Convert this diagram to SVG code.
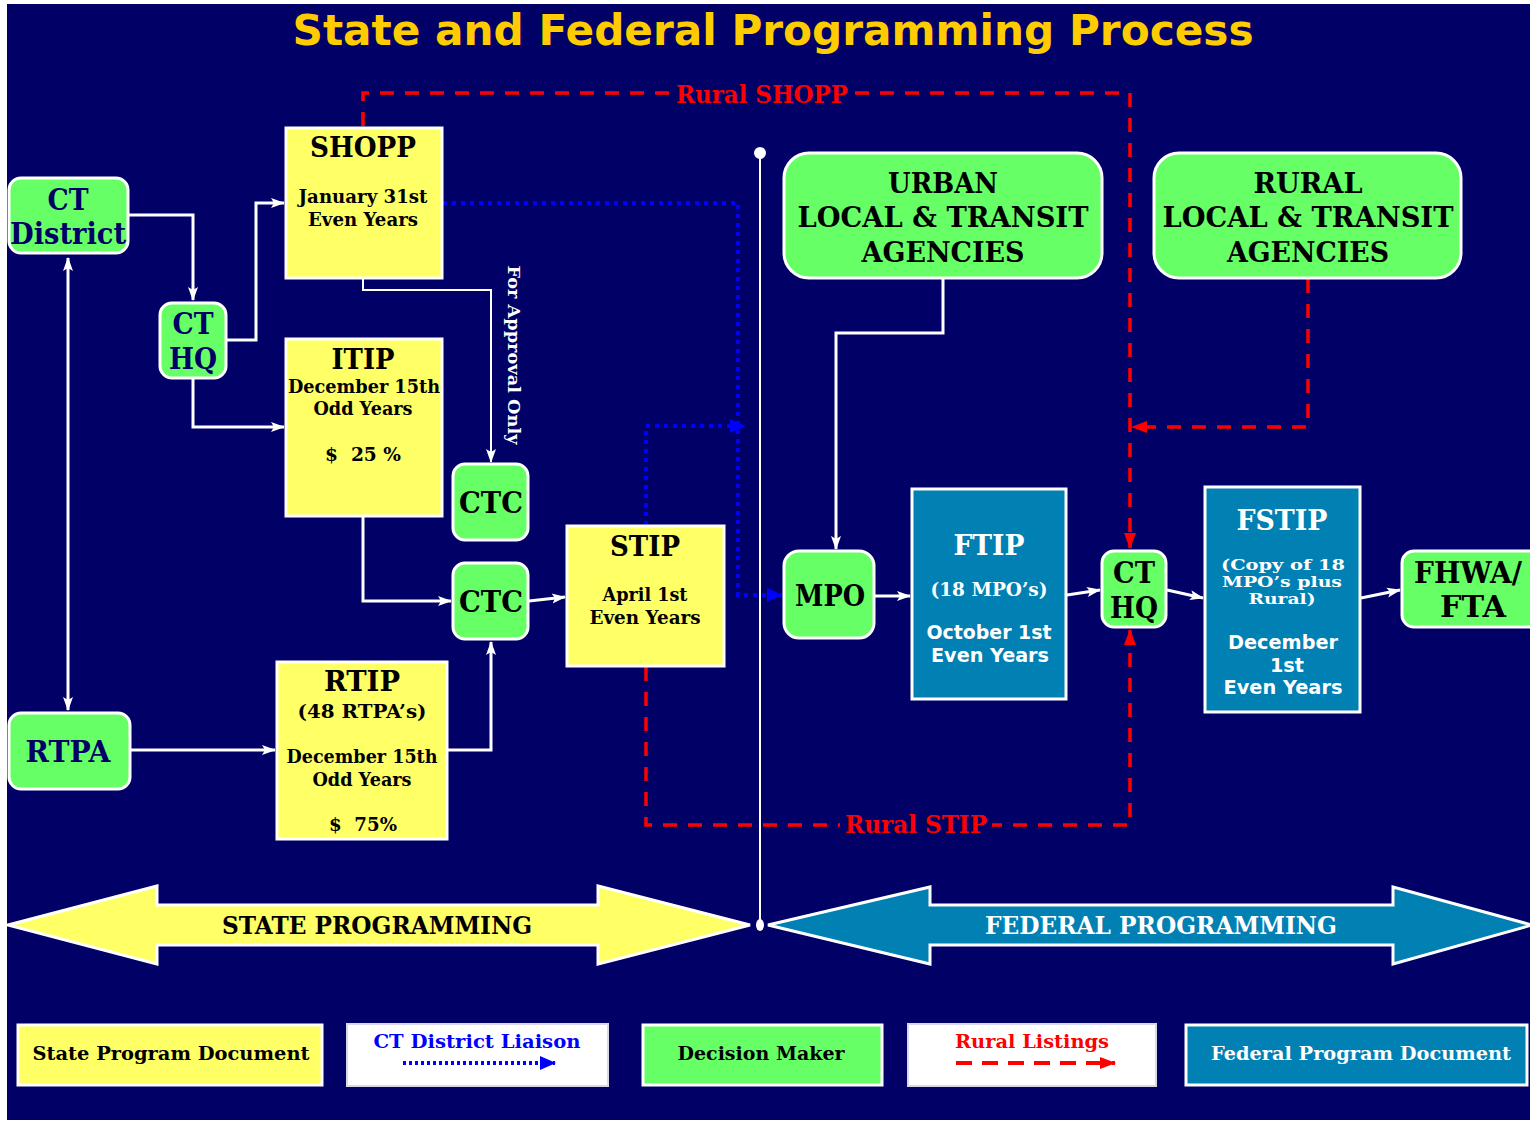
<svg xmlns="http://www.w3.org/2000/svg" width="1530" height="1122" viewBox="0 0 1530 1122">
<defs>
<style>
.s{font-family:"DejaVu Serif","Liberation Serif",serif;font-weight:bold;text-anchor:middle}
.ss{font-family:"DejaVu Sans","Liberation Sans",sans-serif;font-weight:bold;text-anchor:middle}
.yel{fill:#FFFF66;stroke:#FFFFFF;stroke-width:3}
.grn{fill:#66FF66;stroke:#FFFFFF;stroke-width:3}
.blu{fill:#0080B3;stroke:#FFFFFF;stroke-width:3}
.wht{fill:#FFFFFF;stroke:#D8D8E8;stroke-width:2}
.ln{fill:none;stroke:#FFFFFF;stroke-width:3}
.dot{fill:none;stroke:#0000FF;stroke-width:4;stroke-dasharray:4 5}
.dash{fill:none;stroke:#FF0000;stroke-width:3.5;stroke-dasharray:14 11}
.k{fill:#000000}
.n{fill:#000066}
.w{fill:#FFFFFF}
</style>
<marker id="aw" markerUnits="userSpaceOnUse" markerWidth="14" markerHeight="12" refX="13" refY="6" orient="auto"><path d="M0,1 L14,6 L0,11 L3,6 Z" fill="#FFFFFF"/></marker>
<marker id="ab" markerUnits="userSpaceOnUse" markerWidth="16" markerHeight="14" refX="15" refY="7" orient="auto"><path d="M0,0 L16,7 L0,14 Z" fill="#0000FF"/></marker>
<marker id="ar" markerUnits="userSpaceOnUse" markerWidth="16" markerHeight="14" refX="15" refY="7" orient="auto"><path d="M0,1 L16,7 L0,13 Z" fill="#FF0000"/></marker>
</defs>
<rect x="0" y="0" width="1530" height="1122" fill="#FFFFFF"/>
<rect x="7" y="4" width="1523" height="1116" fill="#000066"/>

<text class="ss" x="773" y="45" font-size="42" fill="#FFCC00" textLength="961" lengthAdjust="spacingAndGlyphs">State and Federal Programming Process</text>

<!-- connectors -->
<g id="connectors">
  <path class="ln" d="M128,215 H193 V300" marker-end="url(#aw)"/>
  <path class="ln" d="M226,340 H256 V203 H284" marker-end="url(#aw)"/>
  <path class="ln" d="M193,378 V427 H284" marker-end="url(#aw)"/>
  <path class="ln" d="M68,400 V258" marker-end="url(#aw)"/>
  <path class="ln" d="M68,400 V710" marker-end="url(#aw)"/>
  <path class="ln" d="M130,750 H275" marker-end="url(#aw)"/>
  <path class="ln" style="stroke-width:2" d="M363,278 V290 H491 V462" marker-end="url(#aw)"/>
  <path class="ln" d="M363,516 V601 H451" marker-end="url(#aw)"/>
  <path class="ln" d="M447,750 H491 V642" marker-end="url(#aw)"/>
  <path class="ln" d="M529,601 L565,597" marker-end="url(#aw)"/>
  <path class="ln" d="M943,278 V333 H836 V549" marker-end="url(#aw)"/>
  <path class="ln" d="M875,596 H910" marker-end="url(#aw)"/>
  <path class="ln" d="M1067,595 L1100,590" marker-end="url(#aw)"/>
  <path class="ln" d="M1167,590 L1203,598" marker-end="url(#aw)"/>
  <path class="ln" d="M1361,598 L1400,590" marker-end="url(#aw)"/>
  <!-- divider -->
  <line x1="760" y1="153" x2="760" y2="925" stroke="#FFFFFF" stroke-width="2"/>
  <circle cx="760" cy="153" r="6" fill="#FFFFFF"/>
  <ellipse cx="760" cy="925" rx="4" ry="6" fill="#FFFFFF"/>
  <!-- blue dotted -->
  <path class="dot" d="M443,203 H738 V595 H782" marker-end="url(#ab)"/>
  <path class="dot" d="M646,525 V426 H745" marker-end="url(#ab)"/>
  <!-- red dashed -->
  <path class="dash" d="M363,126 V93 H1130 V548" marker-end="url(#ar)"/>
  <path class="dash" d="M646,667 V825 H1130 V630" marker-end="url(#ar)"/>
  <path class="dash" d="M1308,279 V427 H1132" marker-end="url(#ar)"/>
  <rect x="672" y="80" width="180" height="28" fill="#000066"/>
  <text class="s" x="762" y="103" font-size="24" fill="#FF0000" textLength="172" lengthAdjust="spacingAndGlyphs">Rural SHOPP</text>
  <rect x="840" y="812" width="152" height="28" fill="#000066"/>
  <text class="s" x="916" y="833" font-size="24" fill="#FF0000" textLength="142" lengthAdjust="spacingAndGlyphs">Rural STIP</text>
  <text class="s w" transform="translate(508,355) rotate(90)" font-size="17" textLength="179" lengthAdjust="spacingAndGlyphs">For Approval Only</text>
</g>

<!-- nodes -->
<g id="ct-district">
  <rect class="grn" x="9" y="178" width="119" height="75" rx="12"/>
  <text class="s n" x="68" y="210" font-size="30" textLength="41" lengthAdjust="spacingAndGlyphs">CT</text>
  <text class="s n" x="68" y="244" font-size="30" textLength="116" lengthAdjust="spacingAndGlyphs">District</text>
</g>
<g id="ct-hq-left">
  <rect class="grn" x="160" y="303" width="66" height="75" rx="12"/>
  <text class="s n" x="193" y="334" font-size="30" textLength="41" lengthAdjust="spacingAndGlyphs">CT</text>
  <text class="s n" x="193" y="369" font-size="30" textLength="48" lengthAdjust="spacingAndGlyphs">HQ</text>
</g>
<g id="shopp">
  <rect class="yel" x="286" y="128" width="156" height="150"/>
  <text class="s k" x="363" y="157" font-size="28" textLength="106" lengthAdjust="spacingAndGlyphs">SHOPP</text>
  <text class="s k" x="363" y="203" font-size="18" textLength="129" lengthAdjust="spacingAndGlyphs">January 31st</text>
  <text class="s k" x="363" y="226" font-size="18" textLength="110" lengthAdjust="spacingAndGlyphs">Even Years</text>
</g>
<g id="itip">
  <rect class="yel" x="286" y="339" width="156" height="177"/>
  <text class="s k" x="363" y="369" font-size="28" textLength="63" lengthAdjust="spacingAndGlyphs">ITIP</text>
  <text class="s k" x="364" y="393" font-size="18" textLength="152" lengthAdjust="spacingAndGlyphs">December 15th</text>
  <text class="s k" x="363" y="415" font-size="18" textLength="99" lengthAdjust="spacingAndGlyphs">Odd Years</text>
  <text class="s k" x="363" y="461" font-size="18" textLength="76" lengthAdjust="spacingAndGlyphs" xml:space="preserve">$  25 %</text>
</g>
<g id="ctc-top">
  <rect class="grn" x="453" y="464" width="75" height="76" rx="12"/>
  <text class="s k" x="491" y="513" font-size="30" textLength="64" lengthAdjust="spacingAndGlyphs">CTC</text>
</g>
<g id="ctc-bottom">
  <rect class="grn" x="453" y="563" width="75" height="76" rx="12"/>
  <text class="s k" x="491" y="612" font-size="30" textLength="64" lengthAdjust="spacingAndGlyphs">CTC</text>
</g>
<g id="rtip">
  <rect class="yel" x="277" y="662" width="170" height="177"/>
  <text class="s k" x="362" y="691" font-size="28" textLength="76" lengthAdjust="spacingAndGlyphs">RTIP</text>
  <text class="s k" x="362" y="718" font-size="19" textLength="129" lengthAdjust="spacingAndGlyphs">(48 RTPA’s)</text>
  <text class="s k" x="362" y="763" font-size="18" textLength="151" lengthAdjust="spacingAndGlyphs">December 15th</text>
  <text class="s k" x="362" y="786" font-size="18" textLength="99" lengthAdjust="spacingAndGlyphs">Odd Years</text>
  <text class="s k" x="363" y="831" font-size="18" textLength="68" lengthAdjust="spacingAndGlyphs" xml:space="preserve">$  75%</text>
</g>
<g id="rtpa">
  <rect class="grn" x="9" y="713" width="121" height="76" rx="12"/>
  <text class="s n" x="68" y="762" font-size="30" textLength="85" lengthAdjust="spacingAndGlyphs">RTPA</text>
</g>
<g id="stip">
  <rect class="yel" x="567" y="526" width="157" height="140"/>
  <text class="s k" x="645" y="556" font-size="28" textLength="70" lengthAdjust="spacingAndGlyphs">STIP</text>
  <text class="s k" x="645" y="601" font-size="18" textLength="85" lengthAdjust="spacingAndGlyphs">April 1st</text>
  <text class="s k" x="645" y="624" font-size="18" textLength="111" lengthAdjust="spacingAndGlyphs">Even Years</text>
</g>
<g id="urban">
  <rect class="grn" x="784" y="153" width="318" height="125" rx="25"/>
  <text class="s k" x="943" y="193" font-size="28" textLength="110" lengthAdjust="spacingAndGlyphs">URBAN</text>
  <text class="s k" x="943" y="227" font-size="28" textLength="291" lengthAdjust="spacingAndGlyphs">LOCAL &amp; TRANSIT</text>
  <text class="s k" x="943" y="262" font-size="28" textLength="163" lengthAdjust="spacingAndGlyphs">AGENCIES</text>
</g>
<g id="rural">
  <rect class="grn" x="1154" y="153" width="307" height="125" rx="25"/>
  <text class="s k" x="1308" y="193" font-size="28" textLength="109" lengthAdjust="spacingAndGlyphs">RURAL</text>
  <text class="s k" x="1308" y="227" font-size="28" textLength="291" lengthAdjust="spacingAndGlyphs">LOCAL &amp; TRANSIT</text>
  <text class="s k" x="1308" y="262" font-size="28" textLength="162" lengthAdjust="spacingAndGlyphs">AGENCIES</text>
</g>
<g id="mpo">
  <rect class="grn" x="784" y="551" width="90" height="87" rx="15"/>
  <text class="s k" x="830" y="606" font-size="30" textLength="70" lengthAdjust="spacingAndGlyphs">MPO</text>
</g>
<g id="ftip">
  <rect class="blu" x="912" y="489" width="154" height="210"/>
  <text class="s w" x="989" y="555" font-size="28" textLength="71" lengthAdjust="spacingAndGlyphs">FTIP</text>
  <text class="s w" x="989" y="596" font-size="19" textLength="117" lengthAdjust="spacingAndGlyphs">(18 MPO’s)</text>
  <text class="ss w" x="989" y="639" font-size="19" textLength="125" lengthAdjust="spacingAndGlyphs">October 1st</text>
  <text class="ss w" x="990" y="662" font-size="19" textLength="118" lengthAdjust="spacingAndGlyphs">Even Years</text>
</g>
<g id="ct-hq-right">
  <rect class="grn" x="1102" y="551" width="64" height="76" rx="12"/>
  <text class="s k" x="1134" y="583" font-size="30" textLength="42" lengthAdjust="spacingAndGlyphs">CT</text>
  <text class="s k" x="1134" y="618" font-size="30" textLength="48" lengthAdjust="spacingAndGlyphs">HQ</text>
</g>
<g id="fstip">
  <rect class="blu" x="1205" y="487" width="155" height="225"/>
  <text class="s w" x="1282" y="530" font-size="28" textLength="91" lengthAdjust="spacingAndGlyphs">FSTIP</text>
  <text class="s w" x="1283" y="570" font-size="15" textLength="124" lengthAdjust="spacingAndGlyphs">(Copy of 18</text>
  <text class="s w" x="1282" y="587" font-size="15" textLength="120" lengthAdjust="spacingAndGlyphs">MPO’s plus</text>
  <text class="s w" x="1282" y="604" font-size="15" textLength="67" lengthAdjust="spacingAndGlyphs">Rural)</text>
  <text class="ss w" x="1283" y="649" font-size="19" textLength="110" lengthAdjust="spacingAndGlyphs">December</text>
  <text class="ss w" x="1287" y="672" font-size="19" textLength="34" lengthAdjust="spacingAndGlyphs">1st</text>
  <text class="ss w" x="1283" y="694" font-size="19" textLength="119" lengthAdjust="spacingAndGlyphs">Even Years</text>
</g>
<g id="fhwa-fta">
  <rect class="grn" x="1402" y="551" width="140" height="76" rx="12"/>
  <text class="s k" x="1468" y="583" font-size="30" textLength="108" lengthAdjust="spacingAndGlyphs">FHWA/</text>
  <text class="s k" x="1473" y="617" font-size="30" textLength="66" lengthAdjust="spacingAndGlyphs">FTA</text>
</g>

<g id="state-programming">
  <polygon class="yel" points="8,925 157,886 157,905 598,905 598,886 750,925 598,964 598,945 157,945 157,964"/>
  <text class="s k" x="377" y="934" font-size="24" textLength="310" lengthAdjust="spacingAndGlyphs">STATE PROGRAMMING</text>
</g>
<g id="federal-programming">
  <polygon class="blu" points="768,925 930,887 930,905 1393,905 1393,887 1532,925 1393,964 1393,945 930,945 930,964"/>
  <text class="s w" x="1161" y="934" font-size="24" textLength="352" lengthAdjust="spacingAndGlyphs">FEDERAL PROGRAMMING</text>
</g>

<!-- legend -->
<g id="legend-state">
  <rect class="yel" x="18" y="1025" width="304" height="60"/>
  <text class="s k" x="171" y="1060" font-size="19" textLength="277" lengthAdjust="spacingAndGlyphs">State Program Document</text>
</g>
<g id="legend-liaison">
  <rect class="wht" x="347" y="1024" width="261" height="62"/>
  <text class="s" x="477" y="1048" font-size="19" fill="#0000FF" textLength="207" lengthAdjust="spacingAndGlyphs">CT District Liaison</text>
  <path class="dot" style="stroke-width:4;stroke-dasharray:3 3" d="M403,1063 H555" marker-end="url(#ab)"/>
</g>
<g id="legend-decision">
  <rect class="grn" x="643" y="1025" width="239" height="60"/>
  <text class="s k" x="761" y="1060" font-size="19" textLength="167" lengthAdjust="spacingAndGlyphs">Decision Maker</text>
</g>
<g id="legend-rural">
  <rect class="wht" x="908" y="1024" width="248" height="62"/>
  <text class="s" x="1032" y="1048" font-size="19" fill="#FF0000" textLength="154" lengthAdjust="spacingAndGlyphs">Rural Listings</text>
  <path class="dash" style="stroke-width:4;stroke-dasharray:16 10" d="M956,1063 H1115" marker-end="url(#ar)"/>
</g>
<g id="legend-federal">
  <rect class="blu" x="1186" y="1025" width="341" height="60"/>
  <text class="s w" x="1361" y="1060" font-size="19" textLength="300" lengthAdjust="spacingAndGlyphs">Federal Program Document</text>
</g>
</svg>
